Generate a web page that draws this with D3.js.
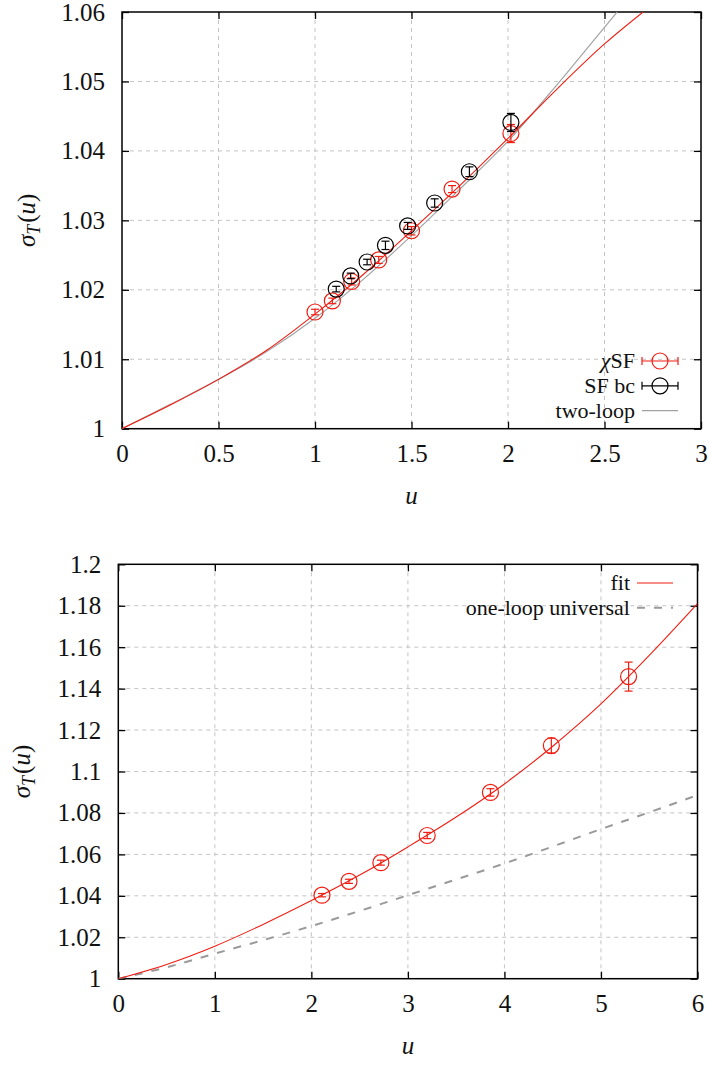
<!DOCTYPE html>
<html>
<head>
<meta charset="utf-8">
<script src="https://cdn.jsdelivr.net/npm/d3@7"></script>
<style>
  body { margin: 0; background: #fff; }
</style>
</head>
<body>
<svg id="canvas" width="709" height="1065"></svg>
<script>
// ---- top panel data ----
let chiU = [1.00, 1.09, 1.19, 1.33, 1.50, 1.71, 2.015]
let chiSigma = [1.0168, 1.0184, 1.0212, 1.0243, 1.0285, 1.0345, 1.0425]
let chiErr = [0.0004, 0.0004, 0.0005, 0.0005, 0.0006, 0.0005, 0.0013]

let sfU = [1.11, 1.185, 1.27, 1.365, 1.48, 1.62, 1.80, 2.015]
let sfSigma = [1.0201, 1.0220, 1.0240, 1.0264, 1.0292, 1.0325, 1.0370, 1.0441]
let sfErr = [0.0004, 0.0004, 0.0004, 0.0006, 0.0005, 0.0006, 0.0007, 0.0013]

let fitTopU = [0, 0.25, 0.5, 0.75, 1.0, 1.25, 1.5, 1.75, 2.0, 2.25, 2.5, 2.7]
let fitTopSigma = [1, 1.0034, 1.0071, 1.0113, 1.0165, 1.0222, 1.0285, 1.0350, 1.0418, 1.0488, 1.0554, 1.0600]

let twoLoopU = [0, 0.25, 0.5, 0.75, 1.0, 1.25, 1.5, 1.75, 2.0, 2.25, 2.5, 2.566]
let twoLoopSigma = [1, 1.0035, 1.0071, 1.0111, 1.0159, 1.0215, 1.0278, 1.0345, 1.0414, 1.0494, 1.0578, 1.0600]

let topXTicks = [0, 0.5, 1, 1.5, 2, 2.5, 3]
let topYTicks = [1, 1.01, 1.02, 1.03, 1.04, 1.05, 1.06]

// ---- bottom panel data ----
let runU = [2.11, 2.39, 2.72, 3.20, 3.855, 4.486, 5.286]
let runSigma = [1.0403, 1.0470, 1.0560, 1.0691, 1.0899, 1.1125, 1.1458]
let runErr = [0.0008, 0.0010, 0.0012, 0.0015, 0.0018, 0.0036, 0.0070]

let fitU = [0, 0.5, 1, 1.5, 2, 2.5, 3, 3.5, 4, 4.5, 5, 5.5, 6]
let fitSigma = [1, 1.0069, 1.0157, 1.0262, 1.0377, 1.0500, 1.0636, 1.0780, 1.0940, 1.1122, 1.1326, 1.1560, 1.1810]

let oneLoopU = [0, 0.5, 1, 1.5, 2, 2.5, 3, 3.5, 4, 4.5, 5, 5.5, 6]
let oneLoopSigma = [1, 1.0055, 1.0121, 1.0186, 1.0254, 1.0327, 1.0403, 1.0479, 1.0556, 1.0638, 1.0722, 1.0803, 1.0886]

let botXTicks = [0, 1, 2, 3, 4, 5, 6]
let botYTicks = [1, 1.02, 1.04, 1.06, 1.08, 1.1, 1.12, 1.14, 1.16, 1.18, 1.2]

let canvas = d3.select("#canvas")
let RED = "#f21d12"
let SERIF = "'Liberation Serif', 'DejaVu Serif', 'Times New Roman', Tinos, serif"

let zip = (xs, ys) => xs.map((x, i) => ({ x: x, y: ys[i] }))

let drawPanel = (p) => {
    let x = d3.scaleLinear().domain(p.xDomain).range([p.left, p.right])
    let y = d3.scaleLinear().domain(p.yDomain).range([p.bottom, p.top])
    let g = canvas.append("g")

    g.append("clipPath").attr("id", p.id)
        .append("rect")
        .attr("x", p.left).attr("y", p.top)
        .attr("width", p.right - p.left).attr("height", p.bottom - p.top)

    // grid
    g.selectAll(".gx").data(p.xTicks.slice(1, -1)).enter().append("line")
        .attr("x1", d => x(d)).attr("x2", d => x(d))
        .attr("y1", p.top).attr("y2", p.bottom)
        .attr("stroke", "#c4c4c4").attr("stroke-dasharray", "4,4")
    g.selectAll(".gy").data(p.yTicks.slice(1, -1)).enter().append("line")
        .attr("y1", d => y(d)).attr("y2", d => y(d))
        .attr("x1", p.left).attr("x2", p.right)
        .attr("stroke", "#c4c4c4").attr("stroke-dasharray", "4,4")

    // axes with inward ticks on all sides
    let fmt = d => String(d)
    g.append("g").attr("transform", `translate(0,${p.bottom})`)
        .call(d3.axisBottom(x).tickValues(p.xTicks).tickSizeInner(-7).tickSizeOuter(0).tickPadding(16).tickFormat(fmt))
    g.append("g").attr("transform", `translate(0,${p.top})`)
        .call(d3.axisTop(x).tickValues(p.xTicks).tickSizeInner(-7).tickSizeOuter(0).tickFormat(""))
    g.append("g").attr("transform", `translate(${p.left},0)`)
        .call(d3.axisLeft(y).tickValues(p.yTicks).tickSizeInner(-7).tickSizeOuter(0).tickPadding(17).tickFormat(fmt))
    g.append("g").attr("transform", `translate(${p.right},0)`)
        .call(d3.axisRight(y).tickValues(p.yTicks).tickSizeInner(-7).tickSizeOuter(0).tickFormat(""))
    g.selectAll(".domain").remove()
    g.selectAll(".tick line").attr("stroke", "#000").attr("stroke-width", 1.3)
    g.selectAll(".tick text").attr("font-size", 25).attr("fill", "#111")

    g.append("rect")
        .attr("x", p.left).attr("y", p.top)
        .attr("width", p.right - p.left).attr("height", p.bottom - p.top)
        .attr("fill", "none").attr("stroke", "#000").attr("stroke-width", 1.5)

    // curves
    let line = d3.line().x(d => x(d.x)).y(d => y(d.y)).curve(d3.curveMonotoneX)
    p.curves.forEach(c => {
        g.append("path")
            .attr("d", line(c.data))
            .attr("fill", "none")
            .attr("stroke", c.color)
            .attr("stroke-width", c.width)
            .attr("stroke-dasharray", c.dash || null)
            .attr("clip-path", `url(#${p.id})`)
    })

    // points with error bars
    p.series.forEach(s => {
        let pts = s.u.map((u, i) => ({ u: u, v: s.v[i], e: s.e[i] }))
        let pg = g.append("g").attr("stroke", s.color).attr("fill", "none").attr("stroke-width", 1.2)
        pts.forEach(d => {
            let cx = x(d.u), y0 = y(d.v - d.e), y1 = y(d.v + d.e)
            pg.append("line").attr("x1", cx).attr("x2", cx).attr("y1", y0).attr("y2", y1)
            pg.append("line").attr("x1", cx - 4).attr("x2", cx + 4).attr("y1", y0).attr("y2", y0)
            pg.append("line").attr("x1", cx - 4).attr("x2", cx + 4).attr("y1", y1).attr("y2", y1)
            pg.append("circle").attr("cx", cx).attr("cy", y(d.v)).attr("r", 8)
        })
    })

    // axis titles
    g.append("text")
        .attr("x", (p.left + p.right) / 2).attr("y", p.bottom + 75)
        .attr("text-anchor", "middle").attr("font-size", 25).attr("font-style", "italic")
        .text("u")
    let yl = g.append("text")
        .attr("transform", `translate(${p.ylabelX},${(p.top + p.bottom) / 2}) rotate(-90)`)
        .attr("text-anchor", "middle").attr("font-size", 25)
    yl.append("tspan").attr("font-style", "italic").text("σ")
    yl.append("tspan").attr("font-style", "italic").attr("font-size", 18).attr("dy", 5).text("T")
    yl.append("tspan").attr("dy", -5).attr("dx", 2).text("(")
    yl.append("tspan").attr("font-style", "italic").text("u")
    yl.append("tspan").text(")")

    // legend
    p.legend.forEach((l, i) => {
        let ly = p.legendY + i * p.legendStep
        let t = g.append("text")
            .attr("x", p.legendTextX).attr("y", ly + 7)
            .attr("text-anchor", "end").attr("font-size", 22)
        l.label.forEach(part => {
            t.append("tspan").attr("font-style", part.italic ? "italic" : null).text(part.text)
        })
        let x0 = p.legendTextX + 7, x1 = p.legendTextX + 43
        let lg = g.append("g").attr("stroke", l.color).attr("fill", "none")
        if (l.kind === "point") {
            lg.attr("stroke-width", 1.2)
            lg.append("line").attr("x1", x0).attr("x2", x1).attr("y1", ly).attr("y2", ly)
            lg.append("line").attr("x1", x0).attr("x2", x0).attr("y1", ly - 4).attr("y2", ly + 4)
            lg.append("line").attr("x1", x1).attr("x2", x1).attr("y1", ly - 4).attr("y2", ly + 4)
            lg.append("circle").attr("cx", (x0 + x1) / 2).attr("cy", ly).attr("r", 8)
        } else {
            lg.append("line").attr("x1", x0).attr("x2", x1).attr("y1", ly).attr("y2", ly)
                .attr("stroke-width", l.width).attr("stroke-dasharray", l.dash || null)
        }
    })
}

drawPanel({
    id: "clipTop",
    left: 122, right: 701, top: 12, bottom: 428.7,
    xDomain: [0, 3], yDomain: [1, 1.06],
    xTicks: topXTicks, yTicks: topYTicks,
    ylabelX: 35,
    curves: [
        { data: zip(twoLoopU, twoLoopSigma), color: "#a3a3a3", width: 1.2 },
        { data: zip(fitTopU, fitTopSigma), color: RED, width: 1.1 }
    ],
    series: [
        { u: chiU, v: chiSigma, e: chiErr, color: RED },
        { u: sfU, v: sfSigma, e: sfErr, color: "#000" }
    ],
    legendTextX: 635, legendY: 361, legendStep: 24.8,
    legend: [
        { label: [{ text: "χ", italic: true }, { text: "SF" }], kind: "point", color: RED },
        { label: [{ text: "SF bc" }], kind: "point", color: "#000" },
        { label: [{ text: "two-loop" }], kind: "line", color: "#a3a3a3", width: 1.2 }
    ]
})

drawPanel({
    id: "clipBot",
    left: 118.3, right: 697.5, top: 564.3, bottom: 978.7,
    xDomain: [0, 6], yDomain: [1, 1.2],
    xTicks: botXTicks, yTicks: botYTicks,
    ylabelX: 30,
    curves: [
        { data: zip(oneLoopU, oneLoopSigma), color: "#9a9a9a", width: 2, dash: "8,9" },
        { data: zip(fitU, fitSigma), color: RED, width: 1.1 }
    ],
    series: [
        { u: runU, v: runSigma, e: runErr, color: RED }
    ],
    legendTextX: 630, legendY: 583, legendStep: 24.8,
    legend: [
        { label: [{ text: "fit" }], kind: "line", color: RED, width: 1.1 },
        { label: [{ text: "one-loop universal" }], kind: "line", color: "#9a9a9a", width: 2, dash: "8,9" }
    ]
})

// serif text everywhere, overriding the axis default font
canvas.selectAll("text").style("font-family", SERIF).attr("fill", "#111")
</script>
</body>
</html>
